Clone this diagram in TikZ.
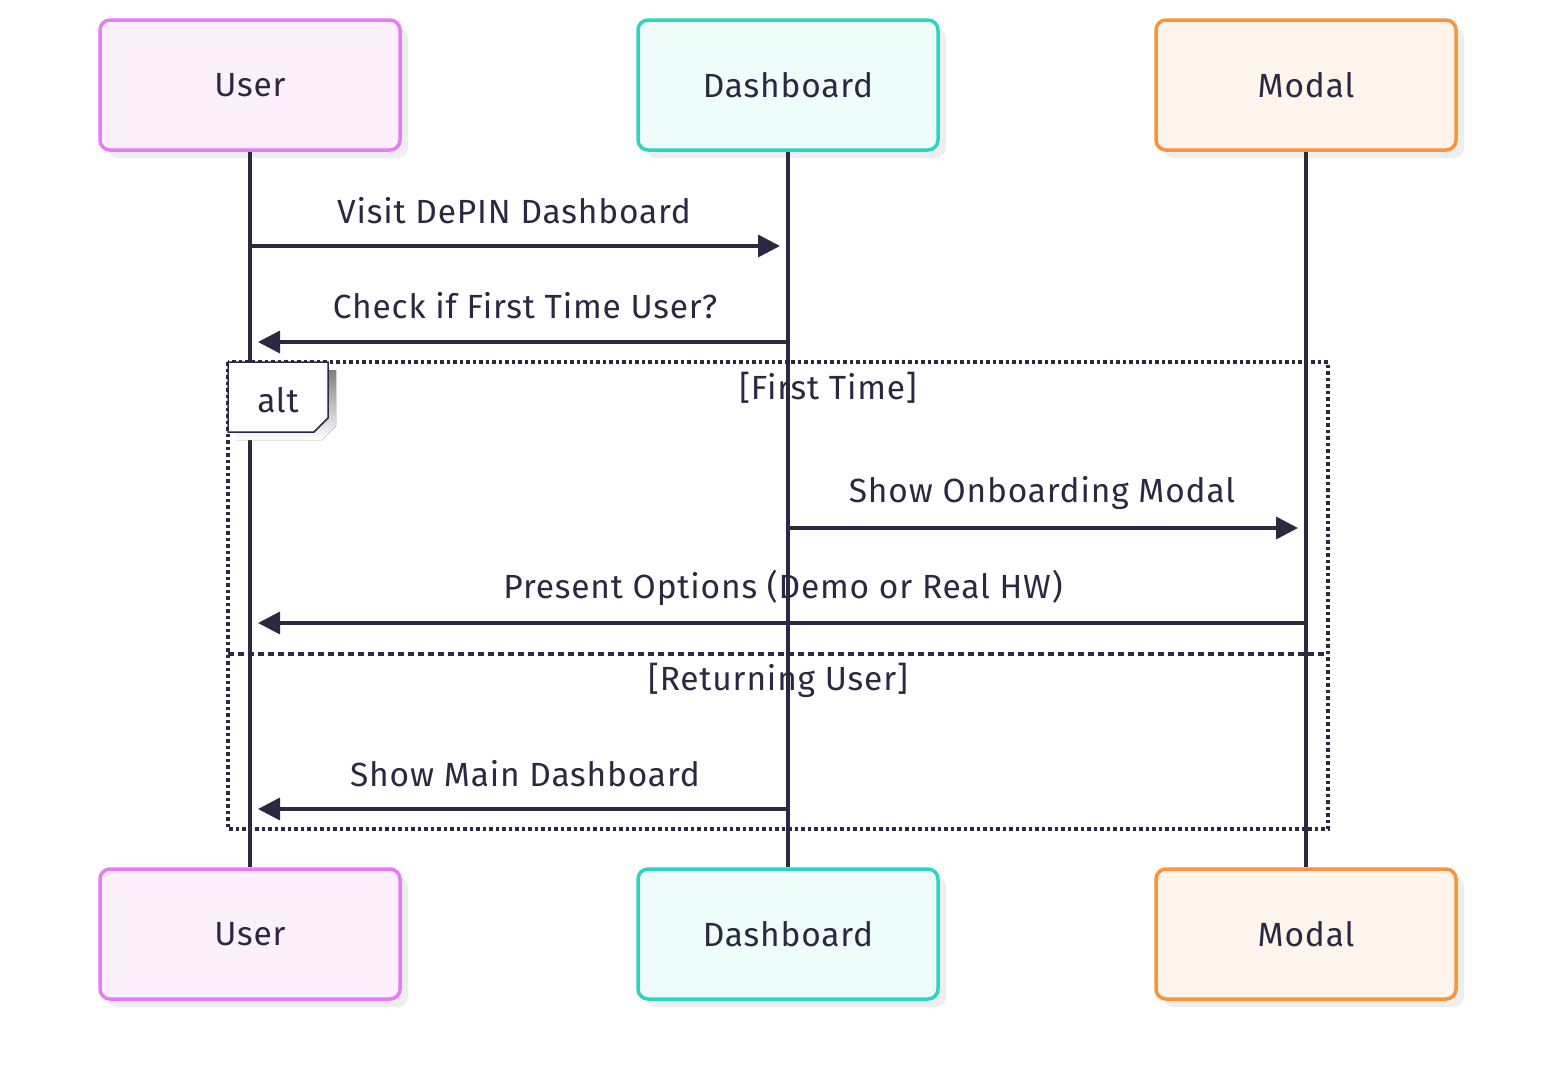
\documentclass[tikz,border=0pt]{standalone}
\usepackage{fontspec}
\setmainfont[LetterSpace=2.5]{Fira Sans}
\usetikzlibrary{arrows.meta,shadows}
\definecolor{ink}{HTML}{2B2942}
\definecolor{userfill}{HTML}{FDF0FD}
\definecolor{userline}{HTML}{E879F9}
\definecolor{dashfill}{HTML}{EFFDFA}
\definecolor{dashline}{HTML}{2DD4BF}
\definecolor{modfill}{HTML}{FFF5EC}
\definecolor{modline}{HTML}{FB923C}
\definecolor{shade}{HTML}{EEEEEE}
\tikzset{
  actor/.style={draw=#1line, fill=#1fill, line width=3.5pt, rounded corners=10pt,
    minimum width=300pt, minimum height=130pt, text=ink,
    drop shadow={shadow xshift=8pt, shadow yshift=-8pt, fill=shade, opacity=1}},
  life/.style={draw=ink, line width=3.5pt},
  msg/.style={draw=ink, line width=3.5pt, -{Triangle[length=22pt,width=22pt]}},
  lbl/.style={text=ink, inner sep=0pt},
  big/.style={font=\fontsize{33.5}{40}\selectfont}
}
\begin{document}
\begin{tikzpicture}[x=1pt,y=-1pt,big]
\useasboundingbox (0,0) rectangle (1556,1082);
% actors
\node[actor=user] (ua) at (250,85) {User};
\node[actor=dash] (da) at (788,85) {Dashboard};
\node[actor=mod] (ma) at (1306,85) {Modal};
\node[actor=user] (ub) at (250,934) {User};
\node[actor=dash] (db) at (788,934) {Dashboard};
\node[actor=mod] (mb) at (1306,934) {Modal};
% alt frame
\draw[ink, line width=3.5pt, dash pattern=on 3.5pt off 3pt] (228,362) rectangle (1328,829);
\draw[ink, line width=3.5pt, dash pattern=on 6pt off 4pt] (228,654) -- (1328,654);
% labels
\node[lbl] (l1) at (514,211) {Visit DePIN Dashboard};
\node[lbl] (l2) at (525,306) {Check if First Time User?};
\node[lbl] (g1) at (828,388) {[First Time]};
\node[lbl] (l3) at (1042,493) {Show Onboarding Modal};
\node[lbl] (l4) at (783,588) {Present Options (Demo or Real HW)};
\node[lbl] (g2) at (778,680) {[Returning User]};
\node[lbl] (l5) at (525,774) {Show Main Dashboard};
% lifelines
\draw[life] (ua.south) -- (ub.north);
\draw[life] (da.south) -- (db.north);
\draw[life] (ma.south) -- (mb.north);
% alt label box
\fill[shade] (236,370) -- (336,370) -- (336,426) -- (322,440) -- (236,440) -- cycle;
\draw[ink, fill=white, line width=1.5pt] (228,362) -- (328,362) -- (328,418) -- (314,432) -- (228,432) -- cycle;
\node[lbl] (alt) at (278,400) {alt};
% message endpoints
\coordinate (u1) at (250,246); \coordinate (d1) at (788,246);
\coordinate (d2) at (788,342); \coordinate (u2) at (250,342);
\coordinate (d3) at (788,528); \coordinate (m3) at (1306,528);
\coordinate (m4) at (1306,623); \coordinate (u4) at (250,623);
\coordinate (d5) at (788,809); \coordinate (u5) at (250,809);
\draw[msg, shorten >=8pt] (u1) -- (d1);
\draw[msg, shorten >=8pt] (d2) -- (u2);
\draw[msg, shorten >=8pt] (d3) -- (m3);
\draw[msg, shorten >=8pt] (m4) -- (u4);
\draw[msg, shorten >=8pt] (d5) -- (u5);
\end{tikzpicture}
\end{document}
